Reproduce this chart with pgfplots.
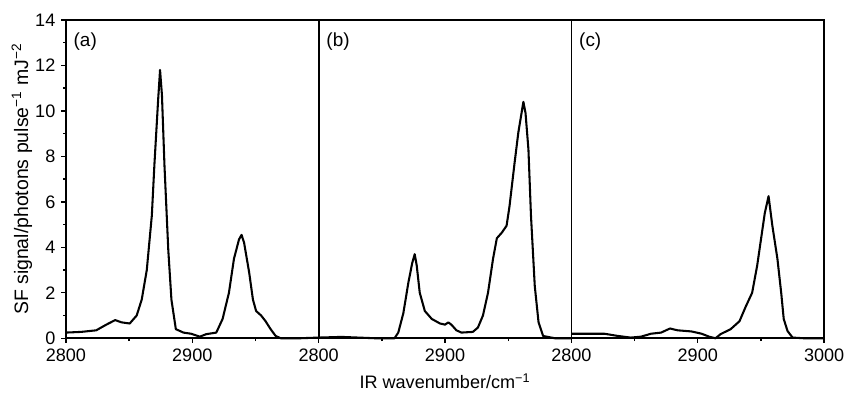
\documentclass[border=0pt]{standalone}
\usepackage{fontspec}
\setmainfont{Liberation Sans}
\usepackage{pgfplots}
\pgfplotsset{compat=1.18}
\begin{document}
\begin{tikzpicture}
\pgfplotsset{
  panel/.style={
    scale only axis, width=146.9pt, height=185pt,
    xmin=2800, xmax=3000, ymin=0, ymax=14,
    xtick={2800,2900}, minor xtick={2850,2950},
    ytick={0,2,...,14}, minor ytick={1,3,...,13},
    tick align=outside, xtick pos=bottom, ytick pos=left,
    major tick length=2.6pt, minor tick length=1.6pt,
    axis line style={line width=1pt},
    every tick/.style={black, line width=0.8pt},
    /pgf/number format/assume math mode=true,
    /pgf/number format/set thousands separator={},
    tick label style={font=\fontsize{10.5}{12}\selectfont},
    label style={font=\fontsize{10.5}{12}\selectfont},
    clip=false,
  },
  spec/.style={black, line width=1.2pt, line join=round},
}
\begin{axis}[panel, at={(0pt,0pt)}, anchor=south west,
  ylabel={SF signal/photons pulse\textsuperscript{\char"2212 1} mJ\textsuperscript{\char"2212 2}},
  ylabel style={yshift=-5pt, font=\fontsize{11.3}{13}\selectfont}]
\addplot[spec] coordinates {
(2800,0.25)(2812,0.28)(2824,0.35)(2832,0.6)(2839,0.8)(2844,0.7)(2850.5,0.65)(2856,1.0)(2860,1.7)(2864,3.0)(2868,5.4)(2870,7.6)(2873,10.5)(2874.5,11.8)(2876,10.7)(2878,7.6)(2881,3.9)(2883.5,1.7)(2887,0.4)(2893,0.25)(2899,0.2)(2906,0.07)(2911,0.18)(2919,0.25)(2924,0.85)(2929,2.0)(2933,3.5)(2937,4.35)(2939,4.55)(2941,4.2)(2945,2.9)(2948,1.7)(2950.5,1.2)(2954.5,1.0)(2958,0.75)(2962,0.4)(2966,0.1)(2970,0.0)(2985,0.0)(3000,0.03)
};
\node[anchor=north west, font=\fontsize{11}{13}\selectfont] at (rel axis cs:0,1) [xshift=1pt, yshift=-4pt] {(a)};
\end{axis}
\begin{axis}[panel, at={(146.9pt,0pt)}, anchor=south west,
  ytick=\empty, minor ytick=\empty,
  xlabel={IR wavenumber/cm\textsuperscript{\char"2212 1}}]
\addplot[spec] coordinates {
(2800,0.03)(2818,0.06)(2845,0.0)(2860,0.0)(2863,0.25)(2867,1.1)(2871,2.45)(2874,3.3)(2876,3.7)(2877.6,3.2)(2880,2.0)(2884,1.2)(2889.5,0.85)(2896,0.65)(2900,0.6)(2902.6,0.7)(2905,0.6)(2909,0.35)(2913,0.25)(2922,0.28)(2926,0.47)(2930,1.0)(2934,2.0)(2938,3.5)(2941,4.4)(2945,4.65)(2948.7,4.95)(2951,5.8)(2955,7.7)(2958,9.05)(2962,10.4)(2963.7,9.9)(2966,8.3)(2968,5.4)(2971,2.3)(2974,0.7)(2977.6,0.1)(2987,0.0)(3000,0.0)
};
\node[anchor=north west, font=\fontsize{11}{13}\selectfont] at (rel axis cs:0,1) [xshift=1pt, yshift=-4pt] {(b)};
\end{axis}
\begin{axis}[panel, at={(293.8pt,0pt)}, anchor=south west,
  ytick=\empty, minor ytick=\empty, xtick={2800,2900,3000}]
\addplot[spec] coordinates {
(2800,0.2)(2816,0.2)(2826,0.2)(2837,0.1)(2847,0.03)(2855,0.07)(2863,0.2)(2871,0.25)(2878,0.43)(2884,0.35)(2895,0.3)(2903,0.2)(2909,0.07)(2914,0.0)(2918,0.18)(2926,0.4)(2933,0.75)(2938,1.4)(2943,2.0)(2947,3.2)(2950,4.35)(2953,5.5)(2956,6.25)(2959,4.95)(2963,3.5)(2966,2.0)(2968,0.85)(2971,0.32)(2975,0.03)(2984,0.0)(3000,0.0)
};
\node[anchor=north west, font=\fontsize{11}{13}\selectfont] at (rel axis cs:0,1) [xshift=1pt, yshift=-4pt] {(c)};
\end{axis}
\path[use as bounding box] (-38.3pt,-33.6pt) rectangle (454.7pt,196.6pt);
\end{tikzpicture}
\end{document}
